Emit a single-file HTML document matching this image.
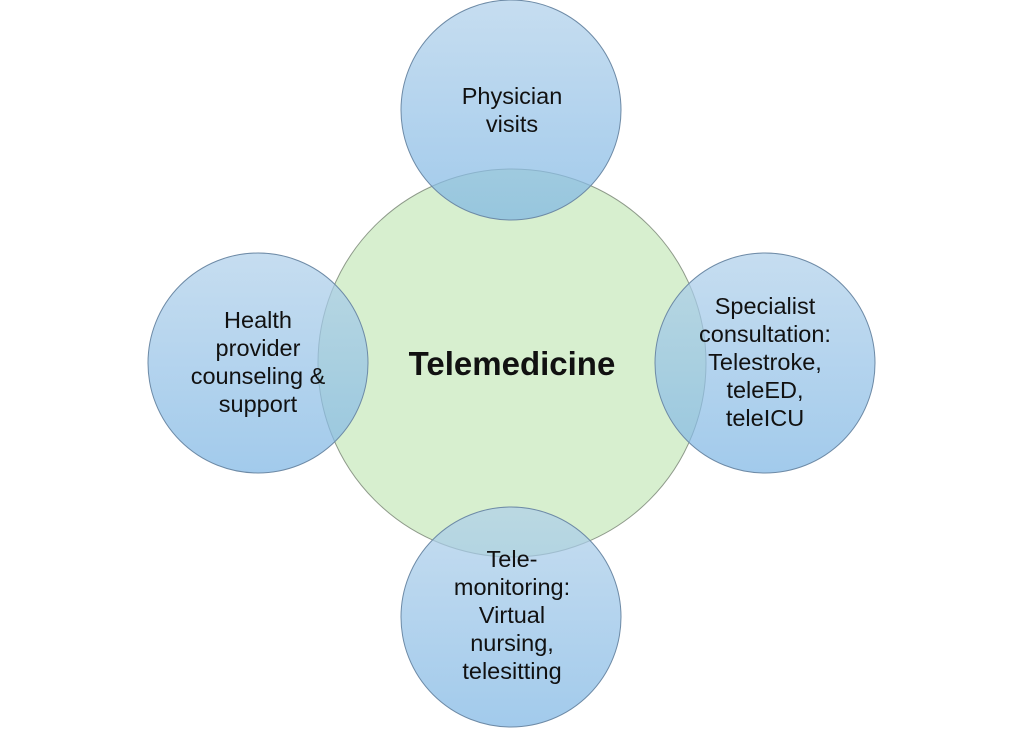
<!DOCTYPE html>
<html><head><style>html,body{margin:0;padding:0;background:#fff;width:1024px;height:729px;overflow:hidden}</style></head>
<body>
<svg width="1024" height="729" viewBox="0 0 1024 729" xmlns="http://www.w3.org/2000/svg" font-family="Liberation Sans, sans-serif">
<defs>
<linearGradient id="g" x1="0" y1="0" x2="0" y2="1">
<stop offset="0" stop-color="#b0d0ea"/>
<stop offset="1" stop-color="#7eb6e4"/>
</linearGradient>
</defs>
<circle cx="512" cy="363" r="194" fill="#d7efcf" stroke="#8e9a8a" stroke-width="1"/>
<g fill="url(#g)" fill-opacity="0.72" stroke="#6d8aa6" stroke-width="1">
<circle cx="511" cy="110" r="110"/>
<circle cx="258" cy="363" r="110"/>
<circle cx="765" cy="363" r="110"/>
<circle cx="511" cy="617" r="110"/>
</g>
<g font-size="23.5" fill="#111" text-anchor="middle">
<text x="512" y="104">Physician</text>
<text x="512" y="132">visits</text>
<text x="258" y="328">Health</text>
<text x="258" y="356">provider</text>
<text x="258" y="384">counseling &amp;</text>
<text x="258" y="412">support</text>
<text x="765" y="314">Specialist</text>
<text x="765" y="342">consultation:</text>
<text x="765" y="370">Telestroke,</text>
<text x="765" y="398">teleED,</text>
<text x="765" y="426">teleICU</text>
<text x="512" y="567">Tele-</text>
<text x="512" y="595">monitoring:</text>
<text x="512" y="623">Virtual</text>
<text x="512" y="651">nursing,</text>
<text x="512" y="679">telesitting</text>
<text x="512" y="375" font-size="33" font-weight="bold">Telemedicine</text>
</g>
</svg>
</body></html>
